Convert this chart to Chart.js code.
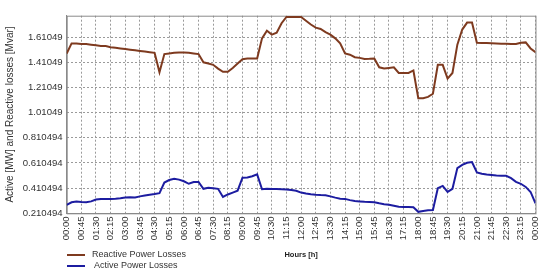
<!DOCTYPE html>
<html>
<head>
<meta charset="utf-8">
<script src="https://cdn.jsdelivr.net/npm/chart.js@4/dist/chart.umd.min.js"></script>
<style>
  body{margin:0;background:#fff;}
  #wrap{position:relative;width:550px;height:276px;}
  .leg{position:absolute;left:67px;font:9px "Liberation Sans",Arial,sans-serif;color:#333;white-space:pre;}
  .leg i{display:inline-block;width:18px;height:2px;vertical-align:middle;margin-right:7px;}
</style>
</head>
<body>
<div id="wrap">
  <canvas id="chart" width="550" height="276"></canvas>
  <div class="leg" id="leg1" style="top:249px"></div>
  <div class="leg" id="leg2" style="top:260px"></div>
</div>
<script>
// Series names
const seriesNames = ["Reactive Power Losses", " Active Power Losses"];
const seriesColors = ["#7e3a1f", "#1c1ca0"];

// Sample times, minutes from midnight (every 15 min)
const minutes = [
  0,15,30,45,60,75,90,105,120,135,150,165,180,195,210,225,240,255,270,285,
  300,315,330,345,360,375,390,405,420,435,450,465,480,495,510,525,540,555,570,585,
  600,615,630,645,660,675,690,705,720,735,750,765,780,795,810,825,840,855,870,885,
  900,915,930,945,960,975,990,1005,1020,1035,1050,1065,1080,1095,1110,1125,1140,1155,1170,1185,
  1200,1215,1230,1245,1260,1275,1290,1305,1320,1335,1350,1365,1380,1395,1410,1425,1440
];

// Reactive power losses [Mvar]
const reactive = [
  1.48,1.56,1.56,1.555,1.555,1.55,1.545,1.54,1.54,1.53,1.525,1.52,1.515,1.51,1.505,1.50,1.495,1.49,1.485,1.33,
  1.475,1.48,1.485,1.487,1.487,1.485,1.48,1.475,1.41,1.40,1.39,1.36,1.335,1.335,1.365,1.40,1.435,1.44,1.44,1.44,
  1.60,1.66,1.63,1.645,1.72,1.77,1.77,1.77,1.77,1.74,1.71,1.685,1.675,1.65,1.63,1.60,1.56,1.48,1.47,1.45,
  1.445,1.437,1.438,1.44,1.37,1.36,1.365,1.37,1.325,1.325,1.325,1.345,1.125,1.125,1.135,1.16,1.39,1.39,1.28,1.325,
  1.55,1.67,1.725,1.725,1.565,1.563,1.563,1.562,1.56,1.558,1.557,1.556,1.555,1.565,1.568,1.52,1.49
];

// Active power losses [MW]
const active = [
  0.277,0.298,0.304,0.300,0.298,0.305,0.32,0.325,0.325,0.325,0.327,0.330,0.336,0.338,0.336,0.345,0.352,0.358,0.363,0.37,
  0.455,0.475,0.485,0.478,0.465,0.445,0.459,0.459,0.405,0.413,0.41,0.405,0.34,0.36,0.375,0.39,0.493,0.495,0.505,0.52,
  0.402,0.405,0.404,0.403,0.402,0.400,0.395,0.39,0.375,0.367,0.362,0.358,0.355,0.353,0.345,0.335,0.327,0.325,0.315,0.308,
  0.305,0.302,0.300,0.298,0.290,0.283,0.278,0.270,0.262,0.260,0.260,0.258,0.222,0.228,0.234,0.236,0.41,0.428,0.38,0.405,
  0.57,0.595,0.612,0.617,0.535,0.525,0.518,0.514,0.51,0.508,0.508,0.49,0.46,0.445,0.42,0.38,0.29
];

// Axis tick labels
const yTickLabels = ["0.210494","0.410494","0.610494","0.810494","1.01049","1.21049","1.41049","1.61049"];
const xTickLabels = [
  "00:00","00:45","01:30","02:15","03:00","03:45","04:30","05:15","06:00","06:45","07:30",
  "08:15","09:00","09:45","10:30","11:15","12:00","12:45","13:30","14:15","15:00","15:45",
  "16:30","17:15","18:00","18:45","19:30","20:15","21:00","21:45","22:30","23:15","00:00"
];
const xTickMinutes = xTickLabels.map((t,i)=>i*45);

const font = {family:'"Liberation Sans", Arial, sans-serif', size:9.6};

// Frame around plot
const framePlugin = {
  id:"frame",
  beforeDatasetsDraw(chart){
    const a = chart.chartArea, ctx = chart.ctx;
    ctx.save();
    ctx.strokeStyle = "#8a8a8a";
    ctx.lineWidth = 1;
    ctx.strokeRect(a.left+0.5, a.top+0.5, a.right-a.left, a.bottom-a.top);
    ctx.restore();
  }
};

// Legend (html)
["leg1","leg2"].forEach((id,i)=>{
  document.getElementById(id).innerHTML = `<i style="background:${seriesColors[i]}"></i>${seriesNames[i]}`;
});

new Chart(document.getElementById("chart"),{
  type:"line",
  data:{
    datasets:[
      {label:seriesNames[0], data:minutes.map((m,i)=>({x:m,y:reactive[i]})), borderColor:seriesColors[0], borderWidth:2, pointRadius:0, tension:0},
      {label:seriesNames[1], data:minutes.map((m,i)=>({x:m,y:active[i]})), borderColor:seriesColors[1], borderWidth:2, pointRadius:0, tension:0}
    ]
  },
  options:{
    responsive:false,
    animation:false,
    layout:{padding:{top:15.7,right:6.7,left:0,bottom:0}},
    plugins:{legend:{display:false}, tooltip:{enabled:false}},
    scales:{
      x:{
        type:"linear", min:0, max:1440,
        afterBuildTicks:s=>{ s.ticks = xTickMinutes.map(v=>({value:v})); },
        afterFit:s=>{ s.height = 62.7; },
        ticks:{autoSkip:false, minRotation:90, maxRotation:90, padding:3, color:"#333", font,
          callback:(v,i)=>xTickLabels[i]},
        grid:{color:"#9a9a9a", drawTicks:false},
        border:{display:true, color:"#8a8a8a", dash:[2,2]},
        title:{display:true, text:"Hours [h]", color:"#222",
          font:{family:font.family, size:7.5, weight:"bold"}, padding:{top:0,bottom:16.5}}
      },
      y:{
        min:0.210494, max:1.78,
        afterBuildTicks:s=>{ s.ticks = yTickLabels.map(t=>({value:parseFloat(t)})); },
        afterFit:s=>{ s.width = 66.7; },
        ticks:{padding:4, color:"#333", font, callback:(v,i)=>yTickLabels[i]},
        grid:{color:"#9a9a9a", drawTicks:false},
        border:{display:true, color:"#8a8a8a", dash:[2,2]},
        title:{display:true, text:"Active [MW] and Reactive losses [Mvar]", color:"#333",
          font:{family:font.family, size:10}, padding:{top:4,bottom:0}}
      }
    }
  },
  plugins:[framePlugin]
});
</script>
</body>
</html>
